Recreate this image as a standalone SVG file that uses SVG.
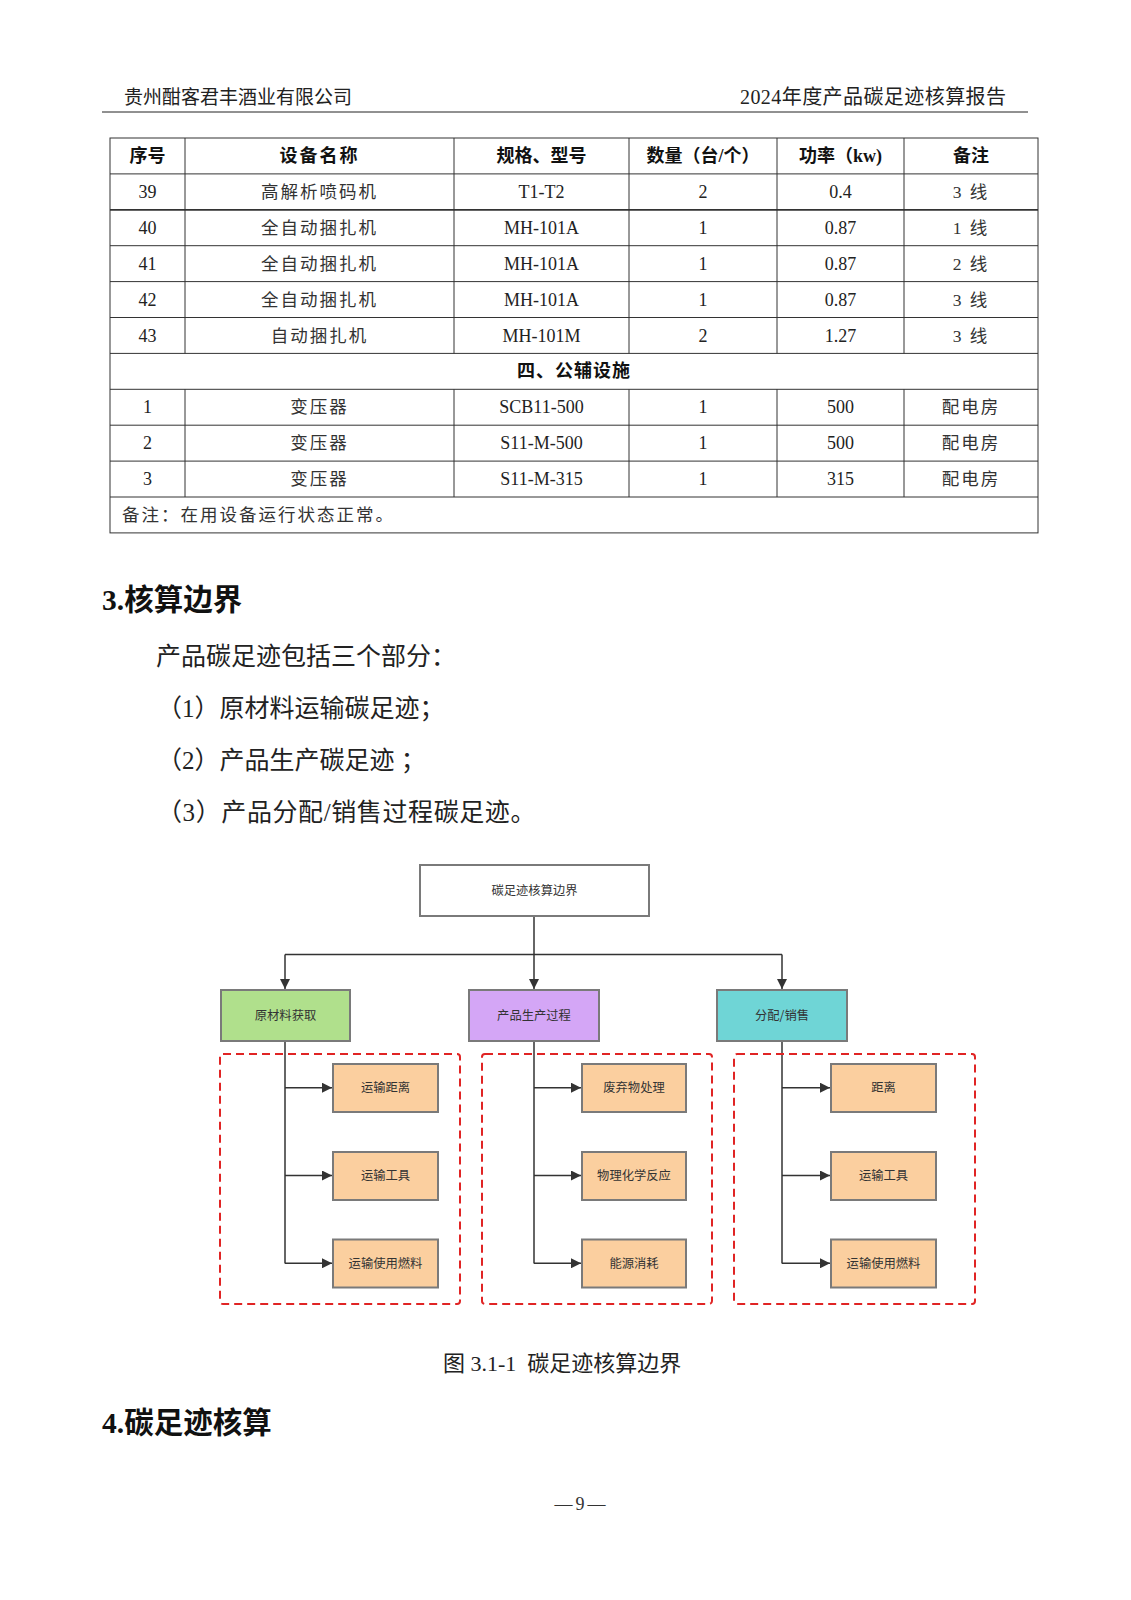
<svg xmlns="http://www.w3.org/2000/svg" width="1131" height="1600" viewBox="0 0 1131 1600">
<defs>
<marker id="arr" viewBox="0 0 10 10" refX="10" refY="5" markerWidth="11" markerHeight="10" markerUnits="userSpaceOnUse" orient="auto">
<path d="M0,0 L10,5 L0,10 z" fill="#333"/>
</marker>
</defs>
<style>
.hd{font-family:"Liberation Serif","Noto Sans CJK SC",serif;font-size:19px;fill:#222}
.c{font-family:"Liberation Serif","Noto Sans CJK SC",serif;font-size:18px;fill:#222;text-anchor:middle}
.cz{font-family:"Liberation Serif","Noto Sans CJK SC",serif;font-size:17.5px;fill:#333;text-anchor:middle;letter-spacing:2px}
.th{font-family:"Liberation Serif","Noto Sans CJK SC",serif;font-size:18px;font-weight:bold;fill:#111;text-anchor:middle}
.tl{stroke:#333;stroke-width:1;fill:none}
.h1{font-family:"Liberation Serif","Noto Sans CJK SC",serif;font-size:29.5px;font-weight:bold;fill:#111}
.body{font-family:"Liberation Serif","Noto Sans CJK SC",serif;font-size:25px;fill:#222}
.nt{font-family:"Noto Sans CJK SC","Liberation Sans",sans-serif;font-size:12.3px;fill:#333;text-anchor:middle}
.box{stroke:#7a7a7a;stroke-width:2}
.leaf{fill:#FBCF9F;stroke:#7a7a7a;stroke-width:2}
.dash{fill:none;stroke:#E02424;stroke-width:2;stroke-dasharray:8,5}
.con{stroke:#333;stroke-width:1.5;fill:none}
</style>
<rect width="1131" height="1600" fill="#fff"/>

<!-- page header -->
<text class="hd" x="124" y="104">贵州酣客君丰酒业有限公司</text>
<text class="hd" x="1006" y="104" text-anchor="end" style="font-size:20px" textLength="266">2024年度产品碳足迹核算报告</text>
<line x1="102" y1="112" x2="1028" y2="112" stroke="#222" stroke-width="1"/>

<!-- table -->
<g id="table">
<rect class="tl" x="110" y="138" width="928" height="394.9"/>
<g class="tl">
<line x1="110" y1="173.9" x2="1038" y2="173.9"/>
<line x1="110" y1="209.8" x2="1038" y2="209.8" stroke-width="1.8"/>
<line x1="110" y1="245.7" x2="1038" y2="245.7"/>
<line x1="110" y1="281.6" x2="1038" y2="281.6"/>
<line x1="110" y1="317.5" x2="1038" y2="317.5"/>
<line x1="110" y1="353.4" x2="1038" y2="353.4"/>
<line x1="110" y1="389.3" x2="1038" y2="389.3"/>
<line x1="110" y1="425.2" x2="1038" y2="425.2"/>
<line x1="110" y1="461.1" x2="1038" y2="461.1"/>
<line x1="110" y1="497" x2="1038" y2="497"/>
<line x1="185" y1="138" x2="185" y2="353.4"/>
<line x1="454" y1="138" x2="454" y2="353.4"/>
<line x1="629" y1="138" x2="629" y2="353.4"/>
<line x1="777" y1="138" x2="777" y2="353.4"/>
<line x1="904" y1="138" x2="904" y2="353.4"/>
<line x1="185" y1="389.3" x2="185" y2="497"/>
<line x1="454" y1="389.3" x2="454" y2="497"/>
<line x1="629" y1="389.3" x2="629" y2="497"/>
<line x1="777" y1="389.3" x2="777" y2="497"/>
<line x1="904" y1="389.3" x2="904" y2="497"/>
</g>
<text class="th" x="147.5" y="162">序号</text>
<text class="th" x="319.5" y="162" style="letter-spacing:2px">设备名称</text>
<text class="th" x="541.5" y="162">规格、型号</text>
<text class="th" x="703" y="162">数量（台/个）</text>
<text class="th" x="840.5" y="162">功率（kw)</text>
<text class="th" x="971" y="162">备注</text>

<text class="c" x="147.5" y="197.9">39</text>
<text class="cz" x="319.5" y="197.9">高解析喷码机</text>
<text class="c" x="541.5" y="197.9">T1-T2</text>
<text class="c" x="703" y="197.9">2</text>
<text class="c" x="840.5" y="197.9">0.4</text>
<text class="cz" x="971" y="197.9">3 线</text>

<text class="c" x="147.5" y="233.8">40</text>
<text class="cz" x="319.5" y="233.8">全自动捆扎机</text>
<text class="c" x="541.5" y="233.8">MH-101A</text>
<text class="c" x="703" y="233.8">1</text>
<text class="c" x="840.5" y="233.8">0.87</text>
<text class="cz" x="971" y="233.8">1 线</text>

<text class="c" x="147.5" y="269.7">41</text>
<text class="cz" x="319.5" y="269.7">全自动捆扎机</text>
<text class="c" x="541.5" y="269.7">MH-101A</text>
<text class="c" x="703" y="269.7">1</text>
<text class="c" x="840.5" y="269.7">0.87</text>
<text class="cz" x="971" y="269.7">2 线</text>

<text class="c" x="147.5" y="305.6">42</text>
<text class="cz" x="319.5" y="305.6">全自动捆扎机</text>
<text class="c" x="541.5" y="305.6">MH-101A</text>
<text class="c" x="703" y="305.6">1</text>
<text class="c" x="840.5" y="305.6">0.87</text>
<text class="cz" x="971" y="305.6">3 线</text>

<text class="c" x="147.5" y="341.5">43</text>
<text class="cz" x="319.5" y="341.5">自动捆扎机</text>
<text class="c" x="541.5" y="341.5">MH-101M</text>
<text class="c" x="703" y="341.5">2</text>
<text class="c" x="840.5" y="341.5">1.27</text>
<text class="cz" x="971" y="341.5">3 线</text>

<text class="th" x="574" y="377.4" style="letter-spacing:1px">四、公辅设施</text>

<text class="c" x="147.5" y="413.3">1</text>
<text class="cz" x="319.5" y="413.3">变压器</text>
<text class="c" x="541.5" y="413.3">SCB11-500</text>
<text class="c" x="703" y="413.3">1</text>
<text class="c" x="840.5" y="413.3">500</text>
<text class="cz" x="971" y="413.3">配电房</text>

<text class="c" x="147.5" y="449.2">2</text>
<text class="cz" x="319.5" y="449.2">变压器</text>
<text class="c" x="541.5" y="449.2">S11-M-500</text>
<text class="c" x="703" y="449.2">1</text>
<text class="c" x="840.5" y="449.2">500</text>
<text class="cz" x="971" y="449.2">配电房</text>

<text class="c" x="147.5" y="485.1">3</text>
<text class="cz" x="319.5" y="485.1">变压器</text>
<text class="c" x="541.5" y="485.1">S11-M-315</text>
<text class="c" x="703" y="485.1">1</text>
<text class="c" x="840.5" y="485.1">315</text>
<text class="cz" x="971" y="485.1">配电房</text>

<text class="cz" x="122" y="521" style="text-anchor:start">备注：在用设备运行状态正常。</text>
</g>

<!-- section 3 -->
<text class="h1" x="102" y="610">3.核算边界</text>
<text class="body" x="156" y="665">产品碳足迹包括三个部分：</text>
<text class="body" x="157" y="717">（1）原材料运输碳足迹；</text>
<text class="body" x="157" y="769">（2）产品生产碳足迹 ；</text>
<text class="body" x="157" y="821" style="letter-spacing:0.6px">（3）产品分配/销售过程碳足迹。</text>

<!-- diagram -->
<g id="connectors">
<line class="con" x1="534" y1="916" x2="534" y2="954.5"/>
<line class="con" x1="285" y1="954.5" x2="782" y2="954.5"/>
<line class="con" x1="285" y1="954.5" x2="285" y2="989" marker-end="url(#arr)"/>
<line class="con" x1="534" y1="954.5" x2="534" y2="989" marker-end="url(#arr)"/>
<line class="con" x1="782" y1="954.5" x2="782" y2="989" marker-end="url(#arr)"/>
<line class="con" x1="285" y1="1042" x2="285" y2="1263.5"/>
<line class="con" x1="285" y1="1087.7" x2="332" y2="1087.7" marker-end="url(#arr)"/>
<line class="con" x1="285" y1="1175.5" x2="332" y2="1175.5" marker-end="url(#arr)"/>
<line class="con" x1="285" y1="1263.3" x2="332" y2="1263.3" marker-end="url(#arr)"/>
<line class="con" x1="534" y1="1042" x2="534" y2="1263.5"/>
<line class="con" x1="534" y1="1087.7" x2="581" y2="1087.7" marker-end="url(#arr)"/>
<line class="con" x1="534" y1="1175.5" x2="581" y2="1175.5" marker-end="url(#arr)"/>
<line class="con" x1="534" y1="1263.3" x2="581" y2="1263.3" marker-end="url(#arr)"/>
<line class="con" x1="782" y1="1042" x2="782" y2="1263.5"/>
<line class="con" x1="782" y1="1087.7" x2="830" y2="1087.7" marker-end="url(#arr)"/>
<line class="con" x1="782" y1="1175.5" x2="830" y2="1175.5" marker-end="url(#arr)"/>
<line class="con" x1="782" y1="1263.3" x2="830" y2="1263.3" marker-end="url(#arr)"/>
</g>

<g id="group-raw"><rect class="dash" x="220" y="1054" width="240" height="250" rx="3"/></g>
<g id="group-prod"><rect class="dash" x="482" y="1054" width="230" height="250" rx="3"/></g>
<g id="group-dist"><rect class="dash" x="734" y="1054" width="241" height="250" rx="3"/></g>

<g id="n-root"><rect class="box" x="420" y="865" width="229" height="51" fill="#fff"/><text class="nt" x="534.5" y="895">碳足迹核算边界</text></g>
<g id="n-raw"><rect class="box" x="221" y="990" width="129" height="51" fill="#B0E08C"/><text class="nt" x="285.5" y="1020">原材料获取</text></g>
<g id="n-prod"><rect class="box" x="469" y="990" width="130" height="51" fill="#D4A6F6"/><text class="nt" x="534" y="1020">产品生产过程</text></g>
<g id="n-dist"><rect class="box" x="717" y="990" width="130" height="51" fill="#6FD5D6"/><text class="nt" x="782" y="1020">分配/销售</text></g>

<g id="n-r1"><rect class="leaf" x="333" y="1064" width="105" height="48"/><text class="nt" x="385.5" y="1092">运输距离</text></g>
<g id="n-r2"><rect class="leaf" x="333" y="1152" width="105" height="48"/><text class="nt" x="385.5" y="1180">运输工具</text></g>
<g id="n-r3"><rect class="leaf" x="333" y="1239.5" width="105" height="48"/><text class="nt" x="385.5" y="1267.5">运输使用燃料</text></g>
<g id="n-p1"><rect class="leaf" x="582" y="1064" width="104" height="48"/><text class="nt" x="634" y="1092">废弃物处理</text></g>
<g id="n-p2"><rect class="leaf" x="582" y="1152" width="104" height="48"/><text class="nt" x="634" y="1180">物理化学反应</text></g>
<g id="n-p3"><rect class="leaf" x="582" y="1239.5" width="104" height="48"/><text class="nt" x="634" y="1267.5">能源消耗</text></g>
<g id="n-d1"><rect class="leaf" x="831" y="1064" width="105" height="48"/><text class="nt" x="883.5" y="1092">距离</text></g>
<g id="n-d2"><rect class="leaf" x="831" y="1152" width="105" height="48"/><text class="nt" x="883.5" y="1180">运输工具</text></g>
<g id="n-d3"><rect class="leaf" x="831" y="1239.5" width="105" height="48"/><text class="nt" x="883.5" y="1267.5">运输使用燃料</text></g>

<text class="body" x="443" y="1371" style="font-size:22px">图 3.1-1&#160;&#160;碳足迹核算边界</text>

<text class="h1" x="102" y="1433">4.碳足迹核算</text>

<text x="581.5" y="1510" text-anchor="middle" style="font-family:'Liberation Serif',serif;font-size:18px;fill:#333;letter-spacing:3px">—9—</text>
</svg>
